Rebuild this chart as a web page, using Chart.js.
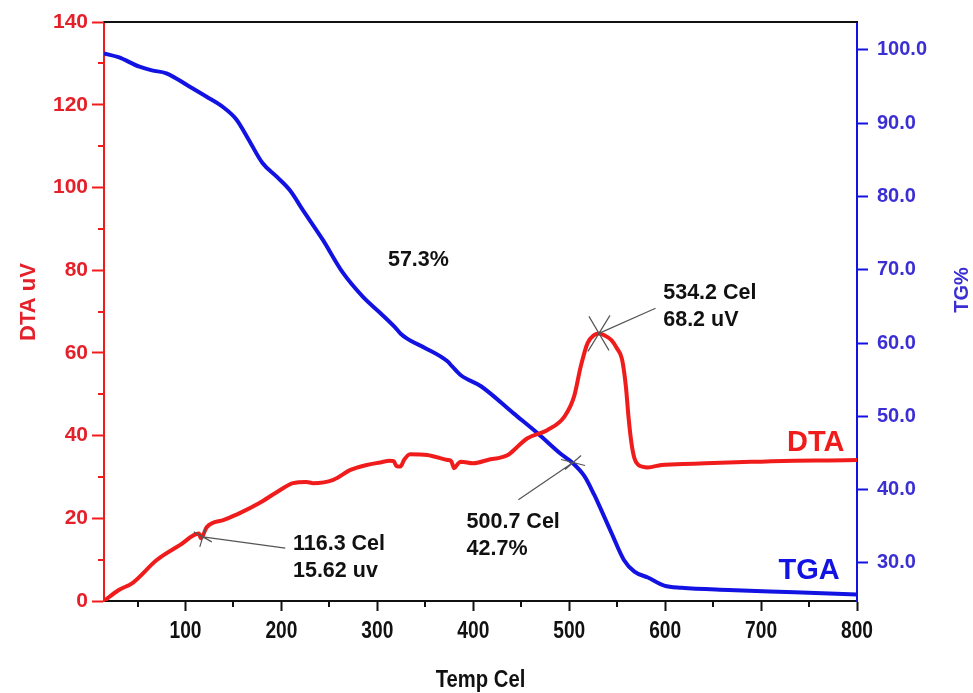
<!DOCTYPE html>
<html>
<head>
<meta charset="utf-8">
<script src="https://cdn.jsdelivr.net/npm/chart.js@4.4.1/dist/chart.umd.min.js"></script>
<style>
  html, body { margin: 0; padding: 0; background: #fff; }
  #wrap { width: 973px; height: 693px; }
</style>
</head>
<body>
<div id="wrap"><canvas id="chart" width="973" height="693"></canvas></div>
<script>
// DTA curve (left axis, uV) vs temperature (Cel)
const dtaTemp = [15, 30, 45, 70, 94, 114, 116, 118, 122, 140, 157, 177, 195, 212, 226, 233, 254, 272, 289, 303,
  313, 317, 320, 324, 328, 334, 352, 373, 377, 380, 384, 387, 400, 415, 436, 446, 456, 477, 495, 505,
  512, 519, 526, 531, 537, 544, 550, 555, 559, 562, 565, 568, 572, 576, 582, 596, 630, 666, 700, 735, 770, 800];
const dtaValues = [0, 2.6, 4.4, 9.9, 13.5, 16.3, 15.2, 15.8, 17.8, 19.6, 21.3, 23.7, 26.3, 28.5, 28.8, 28.5, 29.3, 31.7, 32.9, 33.5,
  33.9, 33.8, 32.6, 32.5, 34.2, 35.5, 35.3, 34.1, 33.8, 32.1, 33.2, 33.7, 33.3, 34.1, 35.3, 37.3, 39.3, 41.3, 44.6, 49.4,
  56.7, 62.3, 64.3, 64.7, 64.2, 63.1, 61.0, 58.5, 52.0, 44.0, 38.0, 34.5, 32.9, 32.5, 32.3, 32.9, 33.2, 33.5, 33.7, 33.9, 34.0, 34.1];

// TGA curve (right axis, TG%) vs temperature
const tgaTemp = [15, 30, 52, 65, 80, 104, 122, 139, 153, 166, 180, 195, 209, 222, 243, 264, 285, 303, 318, 324,
  331, 350, 373, 378, 387, 408, 442, 467, 491, 503, 516, 526, 530, 544, 557, 568, 582, 599, 617, 666, 735, 800];
const tgaValues = [99.5, 99.0, 97.7, 97.2, 96.8, 95.0, 93.6, 92.2, 90.5, 87.7, 84.6, 82.7, 80.8, 78.2, 74.1, 69.6, 66.3, 64.1, 62.2, 61.3,
  60.6, 59.3, 57.5, 56.8, 55.6, 54.1, 50.4, 47.7, 44.9, 43.7, 41.8, 39.3, 38.2, 34.1, 30.4, 28.8, 28.0, 26.9, 26.6, 26.3, 26.0, 25.7];

// tick values
const xTicks = [100, 200, 300, 400, 500, 600, 700, 800];
const xMinor = [50, 150, 250, 350, 450, 550, 650, 750];
const dtaTicks = [0, 20, 40, 60, 80, 100, 120, 140];
const dtaMinor = [10, 30, 50, 70, 90, 110, 130];
const tgTicks = [30, 40, 50, 60, 70, 80, 90, 100];

// marked points: [temp, value, axis, leader-end temp, leader-end value, text temp, text value, line1, line2]
const notes = [
  [531, 64.7, "yL", 590, 70.8, 598, 74.5, "534.2 Cel", "68.2 uV"],
  [504, 43.7, "yR", 447, 38.6, 393, 35.6, "500.7 Cel", "42.7%"],
  [118, 15.5, "yL", 204, 12.8, 212, 13.8, "116.3 Cel", "15.62 uv"],
];
const lossLabel = [311, 82.5, "57.3%"];
const curveLabels = [["DTA", 787, 38.2], ["TGA", 782, 7.3]];

const RED = "#f01c1c";
const BLUE = "#1212e2";
const RED_TXT = "#e4212a";
const BLUE_TXT = "#3b2fd4";
const FONT = "'Liberation Sans', Arial, sans-serif";

const toPts = (xs, ys) => xs.map((x, i) => ({x, y: ys[i]}));
const setTicks = (vals) => (s) => { s.ticks = vals.map(v => ({value: v})); };

// small X-shaped crosses drawn at the marked points (pixel arm offsets)
const crossArms = [[[-10, -17], [11, -18]], [[-12, -3], [8, -7]], [[-9, -5], [3, -10]]];

// narrow text: the original uses a condensed bold face
const narrowText = (ctx, txt, x, y, squeeze) => {
  ctx.save(); ctx.translate(x, y); ctx.scale(squeeze, 1); ctx.fillText(txt, 0, 0); ctx.restore();
};

const decor = {
  id: "decor",
  afterDraw(chart) {
    const {ctx, chartArea: a, scales} = chart;
    const x = scales.x, yL = scales.yL;
    ctx.save();
    // top frame line
    ctx.strokeStyle = "#111"; ctx.lineWidth = 2;
    ctx.beginPath(); ctx.moveTo(a.left, a.top); ctx.lineTo(a.right + 1, a.top); ctx.stroke();
    // minor ticks
    ctx.beginPath();
    xMinor.forEach(v => { const px = Math.round(x.getPixelForValue(v)); ctx.moveTo(px, a.bottom); ctx.lineTo(px, a.bottom + 6); });
    ctx.stroke();
    ctx.strokeStyle = RED; ctx.beginPath();
    dtaMinor.forEach(v => { const py = Math.round(yL.getPixelForValue(v)); ctx.moveTo(a.left, py); ctx.lineTo(a.left - 6, py); });
    ctx.stroke();

    // x tick labels and title (condensed)
    ctx.textAlign = "center"; ctx.textBaseline = "middle"; ctx.fillStyle = "#111";
    ctx.font = "bold 24px " + FONT;
    xTicks.forEach(v => narrowText(ctx, String(v), x.getPixelForValue(v), 631, 0.8));
    ctx.font = "bold 23px " + FONT;
    narrowText(ctx, "Temp Cel", (a.left + a.right) / 2, 681, 0.88);

    // y axis titles
    ctx.font = "bold 22px " + FONT; ctx.fillStyle = RED_TXT;
    ctx.save(); ctx.translate(29, 302); ctx.rotate(-Math.PI / 2); ctx.fillText("DTA uV", 0, 0); ctx.restore();
    ctx.font = "bold 20px " + FONT; ctx.fillStyle = BLUE_TXT;
    ctx.save(); ctx.translate(962, 290); ctx.rotate(-Math.PI / 2); ctx.fillText("TG%", 0, 0); ctx.restore();

    // marked points with leader lines and labels
    notes.forEach(([t, v, ax, lt, lv, tt, tv, l1, l2], i) => {
      const sc = scales[ax];
      const px = x.getPixelForValue(t), py = sc.getPixelForValue(v);
      ctx.strokeStyle = "#555"; ctx.lineWidth = 1.2;
      ctx.beginPath();
      crossArms[i].forEach(([dx, dy]) => { ctx.moveTo(px - dx, py - dy); ctx.lineTo(px + dx, py + dy); });
      ctx.moveTo(px, py); ctx.lineTo(x.getPixelForValue(lt), sc.getPixelForValue(lv));
      ctx.stroke();
      ctx.fillStyle = "#111"; ctx.font = "bold 21.5px " + FONT; ctx.textAlign = "left";
      const tx = x.getPixelForValue(tt), ty = sc.getPixelForValue(tv);
      ctx.fillText(l1, tx, ty);
      ctx.fillText(l2, tx, ty + 27);
    });
    ctx.fillText(lossLabel[2], x.getPixelForValue(lossLabel[0]), yL.getPixelForValue(lossLabel[1]));

    // curve names
    ctx.textAlign = "right"; ctx.font = "bold 29px " + FONT;
    curveLabels.forEach(([txt, t, v]) => {
      ctx.fillStyle = txt === "DTA" ? RED : BLUE;
      ctx.fillText(txt, x.getPixelForValue(t), yL.getPixelForValue(v));
    });
    ctx.restore();
  },
};

new Chart(document.getElementById("chart"), {
  type: "line",
  data: {
    datasets: [
      {label: "DTA", data: toPts(dtaTemp, dtaValues), yAxisID: "yL", borderColor: RED, borderWidth: 4,
        pointRadius: 0, cubicInterpolationMode: "monotone", fill: false},
      {label: "TGA", data: toPts(tgaTemp, tgaValues), yAxisID: "yR", borderColor: BLUE, borderWidth: 4,
        pointRadius: 0, cubicInterpolationMode: "monotone", fill: false},
    ],
  },
  options: {
    responsive: false, animation: false,
    layout: {padding: {top: 22, left: 0, right: 0, bottom: 0}},
    plugins: {legend: {display: false}, tooltip: {enabled: false}},
    scales: {
      x: {
        type: "linear", min: 15, max: 800,
        afterBuildTicks: setTicks(xTicks),
        afterFit: (s) => { s.height = 92; },
        grid: {drawOnChartArea: false, tickLength: 10, tickWidth: 2, tickColor: "#111"},
        border: {color: "#111", width: 2},
        ticks: {display: false},
      },
      yL: {
        position: "left", min: 0, max: 140,
        afterBuildTicks: setTicks(dtaTicks),
        afterFit: (s) => { s.width = 104; },
        grid: {drawOnChartArea: false, tickLength: 12, tickWidth: 2, tickColor: RED},
        border: {color: RED, width: 2},
        ticks: {color: RED_TXT, padding: 4, font: {family: FONT, size: 21, weight: "bold"}},
      },
      yR: {
        position: "right", min: 24.8, max: 103.8,
        afterBuildTicks: setTicks(tgTicks),
        afterFit: (s) => { s.width = 116; },
        grid: {drawOnChartArea: false, tickLength: 11, tickWidth: 2, tickColor: BLUE},
        border: {color: BLUE, width: 2},
        ticks: {color: BLUE_TXT, padding: 9, callback: (v) => Number(v).toFixed(1), font: {family: FONT, size: 20, weight: "bold"}},
      },
    },
  },
  plugins: [decor],
});
</script>
</body>
</html>
